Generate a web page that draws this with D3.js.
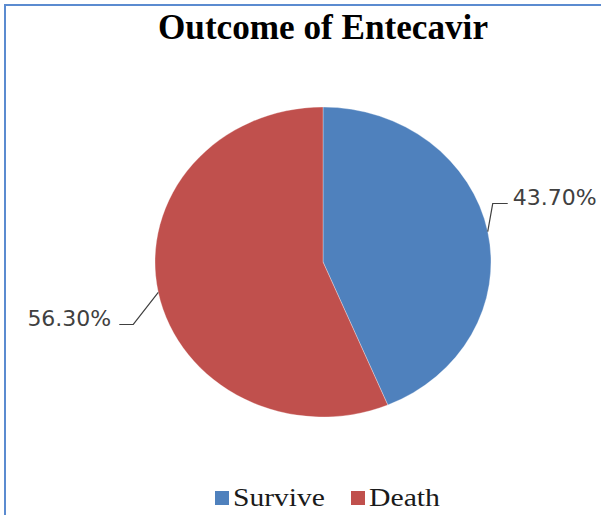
<!DOCTYPE html>
<html>
<head>
<meta charset="utf-8">
<script src="https://cdn.jsdelivr.net/npm/d3@7"></script>
<style>
  html, body { margin: 0; padding: 0; background: #fff; }
  svg { display: block; }
</style>
</head>
<body>
<svg id="chart" width="601" height="515"></svg>
<script>
const categories = ["Survive", "Death"];
const values = [43.70, 56.30];
const labels = ["43.70%", "56.30%"];
const colors = ["#4F81BD", "#C0504D"];
const title = "Outcome of Entecavir";

const svg = d3.select("#chart");
const W = 601, H = 515;

// frame
svg.append("rect").attr("x", 5).attr("y", 5).attr("width", 800).attr("height", 800)
  .attr("fill", "none").attr("stroke", "#5B8BD0").attr("stroke-width", 2);

const cx = 323, cy = 262, rx = 168, ry = 155;

svg.append("text").attr("x", cx).attr("y", 39).attr("text-anchor", "middle")
  .attr("font-family", "'Liberation Serif', 'Times New Roman', serif")
  .attr("font-weight", "bold").attr("font-size", 35).attr("fill", "#000")
  .attr("textLength", 330).attr("lengthAdjust", "spacingAndGlyphs")
  .text(title);

const data = categories.map((c, i) => ({ cat: c, value: values[i], label: labels[i], color: colors[i] }));
const pie = d3.pie().value(d => d.value).sort(null);
const arcs = pie(data);
const arc = d3.arc().innerRadius(0).outerRadius(ry);

const g = svg.append("g").attr("transform", `translate(${cx},${cy}) scale(${rx / ry},1)`);
g.selectAll("path").data(arcs).enter().append("path")
  .attr("d", arc).attr("fill", d => d.data.color)
  .attr("stroke", "#fff").attr("stroke-width", 0.3);

// leader lines and labels
const edge = a => {
  const m = (a.startAngle + a.endAngle) / 2;
  return [cx + rx * Math.sin(m), cy - ry * Math.cos(m)];
};
const leaderStyle = [
  { elbow: [5, -28], end: 15, anchor: "start", dx: 5, dy: 1 },
  { elbow: [-25, 32], end: -14, anchor: "end", dx: -8, dy: 2 }
];
arcs.forEach((a, i) => {
  const [ex, ey] = edge(a);
  const s = leaderStyle[i];
  const bx = ex + s.elbow[0], by = ey + s.elbow[1];
  const tx = bx + s.end;
  svg.append("path")
    .attr("d", `M${ex},${ey}L${bx},${by}L${tx},${by}`)
    .attr("fill", "none").attr("stroke", "#404040").attr("stroke-width", 1.2);
  svg.append("text").attr("x", tx + s.dx).attr("y", by + s.dy)
    .attr("text-anchor", s.anchor)
    .attr("font-family", "'DejaVu Sans', Verdana, sans-serif")
    .attr("font-size", 22).attr("fill", "#404040")
    .text(a.data.label);
});

// legend
const legendX = [215, 351];
const legendTextLen = [92, 71];
data.forEach((d, i) => {
  svg.append("rect").attr("x", legendX[i]).attr("y", 491).attr("width", 14).attr("height", 14)
    .attr("fill", d.color);
  svg.append("text").attr("x", legendX[i] + 18).attr("y", 506)
    .attr("font-family", "'Liberation Serif', 'Times New Roman', serif")
    .attr("font-size", 25).attr("fill", "#1a1a1a")
    .attr("textLength", legendTextLen[i]).attr("lengthAdjust", "spacingAndGlyphs")
    .text(d.cat);
});
</script>
</body>
</html>
